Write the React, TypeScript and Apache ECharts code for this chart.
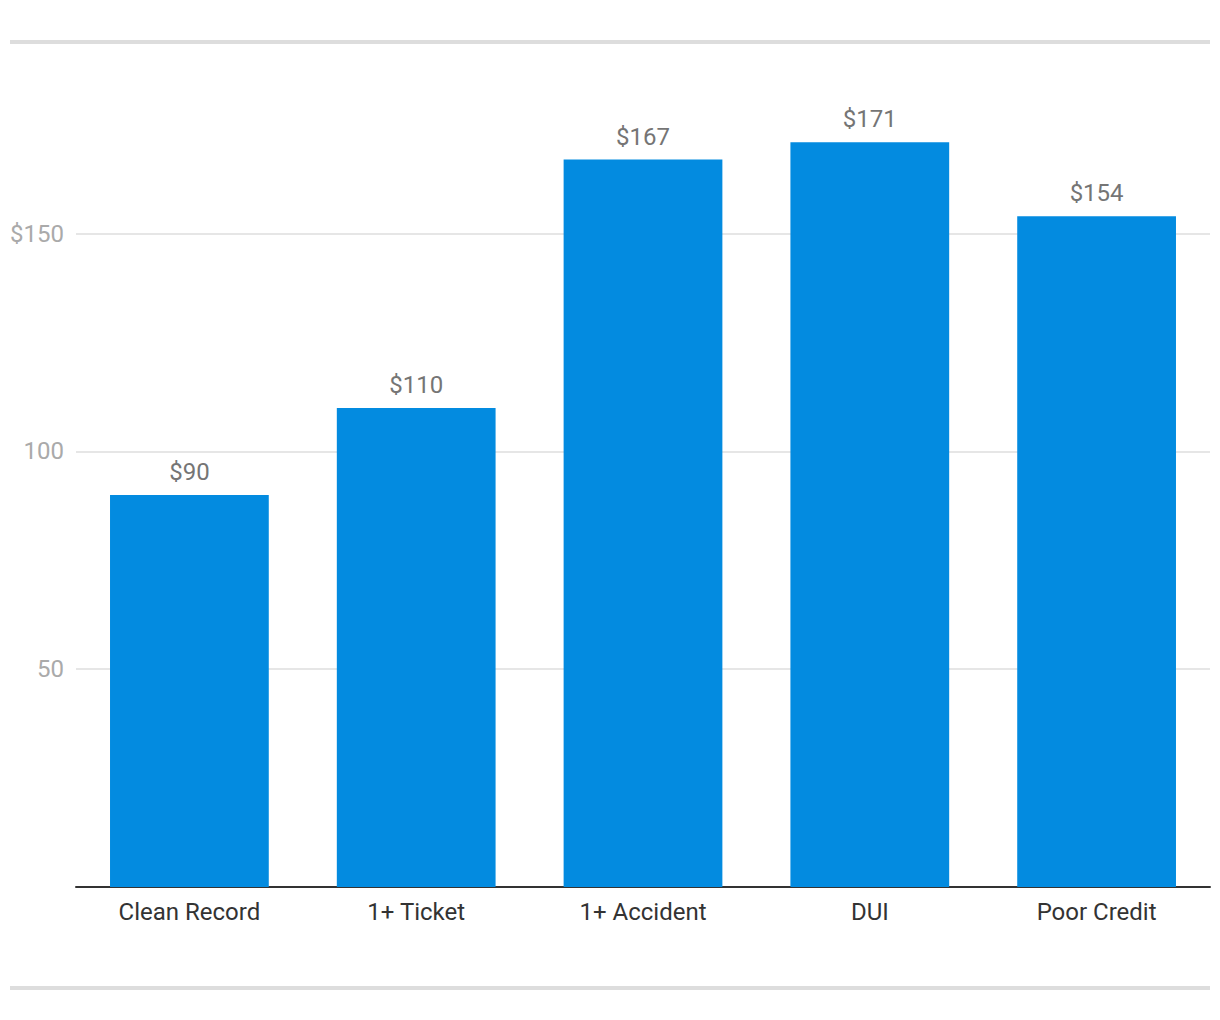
import React, { useEffect, useRef } from "react";
import * as echarts from "echarts";

const categories = ["Clean Record", "1+ Ticket", "1+ Accident", "DUI", "Poor Credit"];
const premiums = [90, 110, 167, 171, 154];
const yTickLabels: Record<number, string> = { 50: "50", 100: "100", 150: "$150" };

export default function App() {
  const ref = useRef<HTMLDivElement>(null);
  useEffect(() => {
    document.body.style.margin = "0";
    const chart = echarts.init(ref.current!, null, { renderer: "svg" });
    chart.setOption({
      animation: false,
      backgroundColor: "#ffffff",
      textStyle: { fontFamily: "Roboto" },
      grid: { left: 76, right: 10, top: 42, bottom: 133, containLabel: false },
      xAxis: {
        type: "category",
        data: categories,
        axisLine: { show: true, lineStyle: { color: "#333333", width: 2 } },
        axisTick: { show: false },
        axisLabel: { color: "#333333", fontSize: 24, margin: 13, fontFamily: "Roboto" },
      },
      yAxis: {
        type: "value",
        min: 0,
        max: 194,
        interval: 50,
        axisLine: { show: false },
        axisTick: { show: false },
        splitLine: { show: true, lineStyle: { color: "#e6e6e6", width: 2 } },
        axisLabel: {
          color: "#aaaaaa",
          fontSize: 24,
          margin: 12,
          fontFamily: "Roboto",
          formatter: (v: number) => yTickLabels[v] ?? "",
        },
      },
      series: [
        {
          type: "bar",
          data: premiums,
          barWidth: "70%",
          itemStyle: { color: "#038BE0" },
          label: {
            show: true,
            position: "top",
            distance: 11,
            color: "#757575",
            fontSize: 24,
            fontFamily: "Roboto",
            formatter: (p: any) => "$" + p.value,
          },
        },
      ],
      graphic: [
        { type: "rect", shape: { x: 10, y: 40, width: 1200, height: 4 }, style: { fill: "#dddddd" }, z: 100 },
        { type: "rect", shape: { x: 10, y: 986, width: 1200, height: 4 }, style: { fill: "#dddddd" }, z: 100 },
      ],
    });
    return () => chart.dispose();
  }, []);
  return <div ref={ref} style={{ width: 1220, height: 1020 }} />;
}
